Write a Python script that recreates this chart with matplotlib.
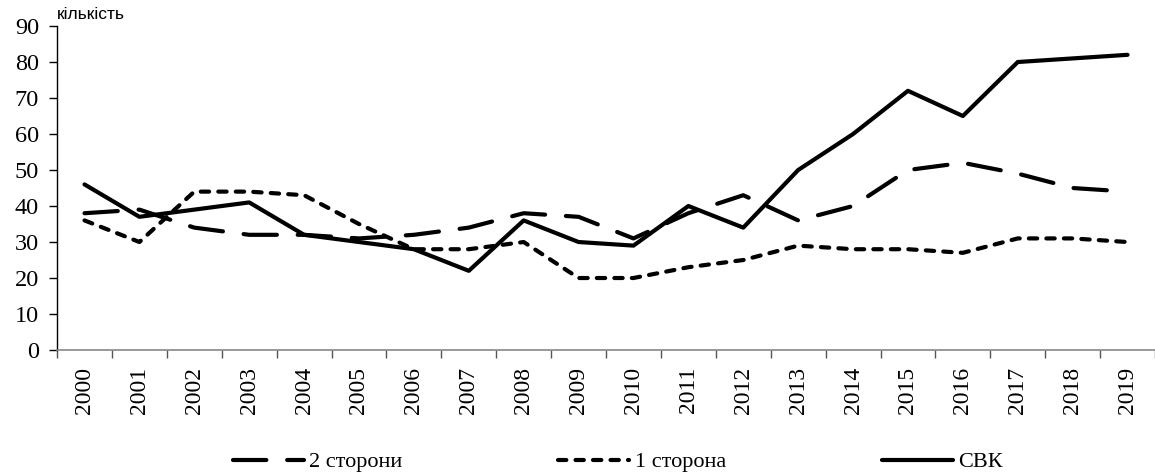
import matplotlib
matplotlib.use('Agg')
import matplotlib.pyplot as plt
import numpy as np

years = [str(y) for y in range(2000, 2020)]
two_sides = [38, 39, 34, 32, 32, 31, 32, 34, 38, 37, 31, 38, 43, 36, 40, 50, 52, 49, 45, 44]
one_side = [36, 30, 44, 44, 43, 35, 28, 28, 30, 20, 20, 23, 25, 29, 28, 28, 27, 31, 31, 30]
svk = [46, 37, 39, 41, 32, 30, 28, 22, 36, 30, 29, 40, 34, 50, 60, 72, 65, 80, 81, 82]

plt.rcParams['font.family'] = 'Liberation Serif'

fig = plt.figure(figsize=(11.55, 4.73), dpi=100)
ax = fig.add_axes([0.0494, 0.260, 0.9506, 0.685])

x = np.arange(len(years))
ax.plot(x, two_sides, color='black', lw=3, dashes=(8, 5), dash_capstyle='round',
        solid_capstyle='round', label='2 сторони')
ax.plot(x, one_side, color='black', lw=3, dashes=(2, 2.2), dash_capstyle='round',
        label='1 сторона')
ax.plot(x, svk, color='black', lw=3, solid_capstyle='round', label='СВК')

ax.set_xlim(-0.5, len(years) - 0.5)
ax.set_ylim(0, 90)
ax.set_yticks(range(0, 91, 10))
ax.tick_params(axis='y', labelsize=17.5, length=6, width=1, direction='out', pad=7)
ax.set_xticks(x)
ax.set_xticklabels(years, rotation=90, fontsize=17)
ax.tick_params(axis='x', length=0, pad=12)
ax.set_xticks(np.arange(-0.5, len(years), 1), minor=True)
ax.tick_params(axis='x', which='minor', length=6, width=1, color='#555555')

for s in ['top', 'right']:
    ax.spines[s].set_visible(False)
ax.spines['bottom'].set_color('#888888')
ax.spines['bottom'].set_linewidth(1.2)
ax.spines['left'].set_linewidth(1)

fig.text(0.0494, 0.953, 'кількість', family='Liberation Sans', fontsize=12.5, va='bottom')

fig.legend(loc='center', bbox_to_anchor=(0.535, 0.023), ncol=3, frameon=False,
           fontsize=16, handlelength=3.2, handletextpad=0.25, columnspacing=7)

fig.savefig('out.png', dpi=100)
